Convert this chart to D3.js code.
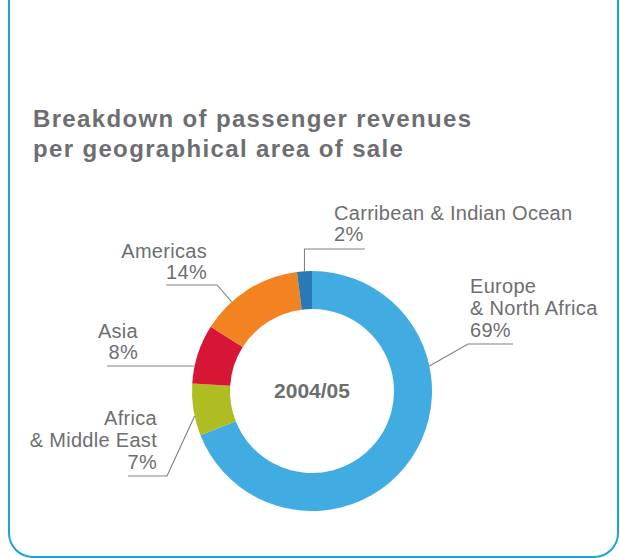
<!DOCTYPE html>
<html>
<head>
<meta charset="utf-8">
<script src="https://cdn.jsdelivr.net/npm/d3@7"></script>
<style>
  html, body { margin: 0; padding: 0; background: #ffffff; }
  svg { display: block; }
  text { font-family: "Liberation Sans", Arial, Helvetica, sans-serif; fill: #6d6e71; }
</style>
</head>
<body>
<svg id="chart" width="620" height="558"></svg>
<script>
// Passenger revenue share by area of sale, 2004/05 (percent)
const regions = ["Europe & North Africa", "Africa & Middle East", "Asia", "Americas", "Carribean & Indian Ocean"];
const shares = [69, 7, 8, 14, 2];
const labelLines = [
  ["Europe", "& North Africa", "69%"],
  ["Africa", "& Middle East", "7%"],
  ["Asia", "8%"],
  ["Americas", "14%"],
  ["Carribean & Indian Ocean", "2%"]
];
const colors = ["#41ace1", "#afbc22", "#d71635", "#f38220", "#2a79b7"];
const centerLabel = "2004/05";
const titleLines = ["Breakdown of passenger revenues", "per geographical area of sale"];

const svg = d3.select("#chart");

// Panel frame: open at the top, rounded bottom corners
const L = 9, R = 618, B = 557, rc = 24;
svg.append("path")
  .attr("d", `M${L},-5 V${B - rc} A${rc},${rc} 0 0 0 ${L + rc},${B} H${R - rc} A${rc},${rc} 0 0 0 ${R},${B - rc} V-5`)
  .attr("fill", "none")
  .attr("stroke", "#1aa3dd")
  .attr("stroke-width", 2);

// Title
svg.append("text")
  .attr("x", 33)
  .attr("y", 127)
  .style("font-size", "24px")
  .style("font-weight", "bold")
  .style("letter-spacing", "1.35px")
  .selectAll("tspan")
  .data(titleLines)
  .join("tspan")
  .attr("x", 33)
  .attr("dy", (d, i) => i === 0 ? 0 : 30)
  .text(d => d);

// Donut
const cx = 312, cy = 391, rOuter = 120, rInner = 82;
const g = svg.append("g").attr("transform", `translate(${cx},${cy})`);

const pie = d3.pie().sort(null).value(d => d).startAngle(0).endAngle(2 * Math.PI);
const arcs = pie(shares);
const arc = d3.arc().innerRadius(rInner).outerRadius(rOuter);

g.selectAll("path.slice")
  .data(arcs)
  .join("path")
  .attr("class", "slice")
  .attr("d", arc)
  .attr("fill", (d, i) => colors[i]);

g.append("text")
  .attr("text-anchor", "middle")
  .attr("y", 7)
  .style("font-size", "21px")
  .style("font-weight", "bold")
  .text(centerLabel);

// Callout layout: where each leader leaves the ring, its elbow and the label block
const rad = Math.PI / 180;
const callouts = [
  { leaveDeg: 78,  elbow: [468, 344], end: [513, 344], anchor: "start", tx: 470, ty: 293 },
  { leaveDeg: 258, elbow: [167, 476], end: [128, 476], anchor: "end",   tx: 157, ty: 425 },
  { leaveDeg: 282, elbow: null,       end: [107, 366], anchor: "end",   tx: 138, ty: 338 },
  { leaveDeg: 318, elbow: [217, 285], end: [166, 285], anchor: "end",   tx: 207, ty: 258 },
  { leaveDeg: null, elbow: null,      end: [365, 249], anchor: "start", tx: 334, ty: 220 }
];

callouts.forEach((c, i) => {
  const a = c.leaveDeg === null ? (arcs[i].startAngle + arcs[i].endAngle) / 2 : c.leaveDeg * rad;
  const sx = cx + rOuter * Math.sin(a);
  const sy = cy - rOuter * Math.cos(a);
  let pts;
  if (c.leaveDeg === null) {
    pts = [[sx, sy], [sx, c.end[1]], c.end];
  } else if (c.elbow) {
    pts = [[sx, sy], c.elbow, c.end];
  } else {
    pts = [[sx, sy], [c.end[0], sy]];
  }
  svg.append("path")
    .attr("d", d3.line()(pts))
    .attr("fill", "none")
    .attr("stroke", "#808184")
    .attr("stroke-width", 1.1);

  svg.append("text")
    .attr("text-anchor", c.anchor)
    .attr("y", c.ty)
    .style("font-size", "20px")
    .style("letter-spacing", "0.3px")
    .selectAll("tspan")
    .data(labelLines[i])
    .join("tspan")
    .attr("x", c.tx)
    .attr("dy", (d, k) => k === 0 ? 0 : (labelLines[i].length === 3 ? 22 : 21))
    .text(d => d);
});
</script>
</body>
</html>
